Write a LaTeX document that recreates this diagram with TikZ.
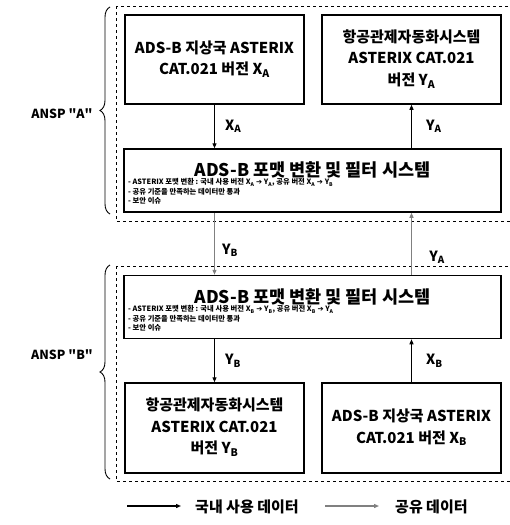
\documentclass[tikz,border=0pt]{standalone}
\usepackage{fontspec}
\setmainfont{Noto Sans CJK KR}
\newfontfamily\symfont{DejaVu Sans}
\usetikzlibrary{arrows.meta,decorations.pathreplacing}
\newcommand\ssb[1]{\textsubscript{#1}}
\newcommand\arr{{\symfont\bfseries ➔}}
\definecolor{sharegray}{RGB}{128,128,128}
\begin{document}
\begin{tikzpicture}[x=1pt,y=-1pt,
  sysbox/.style={draw,line width=1.5pt,minimum width=179pt,minimum height=89pt,align=center,font=\fontsize{15}{21.5}\selectfont\bfseries,inner sep=0pt},
  fbox/.style={draw,line width=1.5pt,minimum width=377pt,minimum height=63pt,inner sep=0pt},
  ftitle/.style={font=\fontsize{17.5}{20}\selectfont\bfseries,inner sep=0pt},
  fsmall/.style={font=\fontsize{7.3}{9.5}\selectfont\bfseries,align=left,inner sep=0pt,anchor=north west},
  grp/.style={draw,dashed,line width=0.8pt},
  dom/.style={line width=1.2pt,-{Triangle[length=5pt,width=4pt]}},
  shr/.style={line width=1.2pt,draw=sharegray,-{Triangle[length=5pt,width=4pt]},sharegray},
  lab/.style={font=\fontsize{14}{16}\selectfont\bfseries,inner sep=0pt},
  leg/.style={font=\fontsize{15}{17}\selectfont\bfseries,inner sep=0pt},
  brc/.style={decorate,decoration={brace,amplitude=10pt},line width=0.9pt},
  ansp/.style={font=\fontsize{12.5}{15}\selectfont\bfseries,inner sep=0pt}]
\useasboundingbox (0,0) rectangle (510,525);
% group frames
\draw[grp] (116,6) rectangle (520,221);
\draw[grp] (116,266) rectangle (520,481);
% ANSP A
\node[sysbox] (tl) at (214.5,59.5) {\raisebox{-3pt}{\begin{tabular}{@{}c@{}}ADS-B 지상국 ASTERIX\\CAT.021 버전 X\ssb{A}\end{tabular}}};
\node[sysbox] (tr) at (411.5,59.5) {\raisebox{-1pt}{\begin{tabular}{@{}c@{}}항공관제자동화시스템\\ASTERIX CAT.021\\버전 Y\ssb{A}\end{tabular}}};
\node[fbox] (fa) at (312.5,180.5) {};
\node[ftitle] (fat) at (312.5,170) {ADS-B 포맷 변환 및 필터 시스템};
\node[fsmall] (fas) at (128,178.5) {- ASTERIX 포맷 변환 : 국내 사용 버전 X\ssb{A} \arr{} Y\ssb{A}, 공유 버전 X\ssb{A} \arr{} Y\ssb{B}\\- 공유 기준을 만족하는 데이터만 통과\\- 보안 이슈};
% ANSP B
\node[fbox] (fb) at (312.5,307) {};
\node[ftitle] (fbt) at (312.5,297) {ADS-B 포맷 변환 및 필터 시스템};
\node[fsmall] (fbs) at (128,305.5) {- ASTERIX 포맷 변환 : 국내 사용 버전 X\ssb{B} \arr{} Y\ssb{B}, 공유 버전 X\ssb{B} \arr{} Y\ssb{A}\\- 공유 기준을 만족하는 데이터만 통과\\- 보안 이슈};
\node[sysbox,minimum height=90pt] (bl) at (214.5,428) {\raisebox{-5pt}{\begin{tabular}{@{}c@{}}항공관제자동화시스템\\ASTERIX CAT.021\\버전 Y\ssb{B}\end{tabular}}};
\node[sysbox,minimum height=90pt] (br) at (411.5,428) {\raisebox{-5pt}{\begin{tabular}{@{}c@{}}ADS-B 지상국 ASTERIX\\CAT.021 버전 X\ssb{B}\end{tabular}}};
% domestic arrows
\draw[dom] (tl.south) -- (tl.south |- fa.north) node[lab,midway,right=10pt] (lxa) {X\ssb{A}};
\draw[dom] (tr.south |- fa.north) -- (tr.south) node[lab,midway,right=14pt] (lya) {Y\ssb{A}};
\draw[dom] (bl.north |- fb.south) -- (bl.north) node[lab,midway,right=10pt] (lyb) {Y\ssb{B}};
\draw[dom] (br.north) -- (br.north |- fb.south) node[lab,midway,right=14pt] (lxb) {X\ssb{B}};
% shared arrows
\draw[shr] (tl.south |- fa.south) -- (tl.south |- fb.north);
\node[lab] (syb) at (230,250) {Y\ssb{B}};
\draw[shr] (tr.south |- fb.north) -- (tr.south |- fa.south);
\node[lab] (sya) at (437,257) {Y\ssb{A}};
% braces
\coordinate (ba1) at (110,214);
\coordinate (ba2) at (110,7);
\draw[brc] (ba1) -- (ba2);
\node[ansp] (na) at (62,114) {ANSP \textquotedbl A\textquotedbl};
\coordinate (bb1) at (110,479);
\coordinate (bb2) at (110,265);
\draw[brc] (bb1) -- (bb2);
\node[ansp] (nb) at (62,355) {ANSP \textquotedbl B\textquotedbl};
% legend
\coordinate (l1) at (127,506);
\coordinate (l2) at (181,506);
\draw[dom] (l1) -- (l2);
\node[leg,anchor=west] (lt1) at (195,507) {국내 사용 데이터};
\coordinate (l3) at (325,506);
\coordinate (l4) at (379,506);
\draw[shr] (l3) -- (l4);
\node[leg,anchor=west] (lt2) at (395,507) {공유 데이터};
\end{tikzpicture}
\end{document}
